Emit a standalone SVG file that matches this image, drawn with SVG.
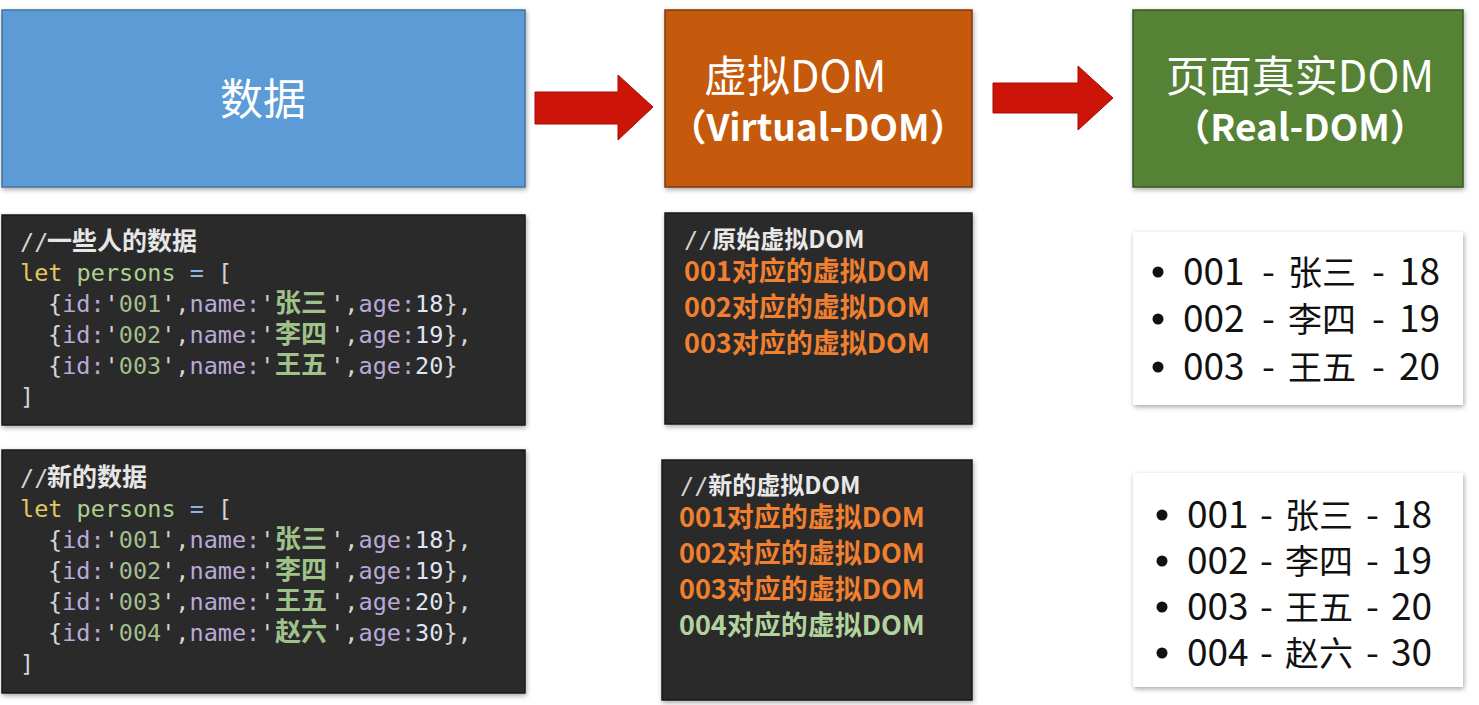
<svg xmlns="http://www.w3.org/2000/svg" width="1479" height="705" viewBox="0 0 1479 705">
<defs>
<filter id="sh" x="-5%" y="-5%" width="110%" height="115%">
<feDropShadow dx="1" dy="2" stdDeviation="2.5" flood-color="#000" flood-opacity="0.35"/>
</filter>
<style>
.title{font-family:"Noto Sans CJK SC","Noto Sans",sans-serif;fill:#fff;font-size:43px}
.sub{font-family:"Noto Sans CJK SC","Noto Sans",sans-serif;fill:#fff;font-size:37px;font-weight:bold}
.code{font-family:"DejaVu Sans Mono","Liberation Mono","Noto Sans CJK SC",monospace;font-size:23.5px;fill:#d4d4d4}
.cm{font-family:"Noto Sans CJK SC",sans-serif;font-weight:bold;font-size:25px;fill:#e6e6e6}
.kw{fill:#e2c85e}
.var{fill:#acd08f}
.op{fill:#8db4e8}
.key{fill:#b9a9d8}
.str{fill:#a3bf8e}
.nm{font-family:"Noto Sans CJK SC",sans-serif;font-weight:bold;font-size:26px;fill:#9fc28a}
.num{fill:#dfe5f2}
.vd{font-family:"Noto Sans CJK SC","Noto Sans",sans-serif;font-weight:bold;font-size:27px;fill:#f0802f}
.vdg{fill:#b2d29e}
.vc{font-family:"Noto Sans CJK SC",sans-serif;font-weight:bold;font-size:24px;fill:#e8e8e8}
.li{font-family:"Noto Sans CJK SC","Noto Sans",sans-serif;font-size:37px;fill:#111}
.lc{font-size:34px}
.dark{fill:#2c2c2c;stroke:#1b1b1b;stroke-width:1.5}
.white{fill:#fff}
.arrow{fill:#cc1408;stroke:#a50d05;stroke-width:1}
</style>
</defs>
<rect width="1479" height="705" fill="#fff"/>

<g id="connectors">
<polygon class="arrow" points="535,92 618,92 618,75 653,107 618,140 618,124 535,124"/>
<polygon class="arrow" points="993,83 1078,83 1078,66 1113,98 1078,130 1078,113 993,113"/>
</g>

<g id="node-data">
<rect x="2" y="10" width="523" height="177" fill="#5b9bd5" stroke="#41719c" stroke-width="1.5" filter="url(#sh)"/>
<text class="title" x="263" y="115" text-anchor="middle">数据</text>
</g>

<g id="node-virtual-dom">
<rect x="665" y="10" width="307" height="177" fill="#c55a11" stroke="#7f3a0c" stroke-width="1.5" filter="url(#sh)"/>
<text class="title" x="704" y="92">虚拟DOM</text>
<text class="sub" x="818" y="141" text-anchor="middle">（Virtual-DOM）</text>
</g>

<g id="node-real-dom">
<rect x="1133" y="10" width="330" height="177" fill="#548235" stroke="#385723" stroke-width="1.5" filter="url(#sh)"/>
<text class="title" x="1300" y="92" text-anchor="middle">页面真实DOM</text>
<text class="sub" x="1300" y="141" text-anchor="middle">（Real-DOM）</text>
</g>

<g id="code-old">
<rect class="dark" x="2" y="215" width="523" height="210" filter="url(#sh)"/>
<text x="20" y="250"><tspan class="code" fill="#e6e6e6">//</tspan><tspan class="cm" x="47">一些人的数据</tspan></text>
<text class="code" x="20" y="281"><tspan class="kw">let</tspan> <tspan class="var">persons</tspan> <tspan class="op">=</tspan> [</text>
<text class="code" y="312"><tspan x="48">{</tspan><tspan class="key">id:</tspan>'<tspan class="str">001</tspan>',<tspan class="key">name:</tspan>'<tspan class="nm" x="275">张三</tspan><tspan x="330.2">',</tspan><tspan class="key">age:</tspan><tspan class="num">18</tspan>},</text>
<text class="code" y="343"><tspan x="48">{</tspan><tspan class="key">id:</tspan>'<tspan class="str">002</tspan>',<tspan class="key">name:</tspan>'<tspan class="nm" x="275">李四</tspan><tspan x="330.2">',</tspan><tspan class="key">age:</tspan><tspan class="num">19</tspan>},</text>
<text class="code" y="374"><tspan x="48">{</tspan><tspan class="key">id:</tspan>'<tspan class="str">003</tspan>',<tspan class="key">name:</tspan>'<tspan class="nm" x="275">王五</tspan><tspan x="330.2">',</tspan><tspan class="key">age:</tspan><tspan class="num">20</tspan>}</text>
<text class="code" x="20" y="405">]</text>
</g>

<g id="code-new">
<rect class="dark" x="2" y="450" width="523" height="243" filter="url(#sh)"/>
<text x="20" y="486"><tspan class="code" fill="#e6e6e6">//</tspan><tspan class="cm" x="47">新的数据</tspan></text>
<text class="code" x="20" y="517"><tspan class="kw">let</tspan> <tspan class="var">persons</tspan> <tspan class="op">=</tspan> [</text>
<text class="code" y="548"><tspan x="48">{</tspan><tspan class="key">id:</tspan>'<tspan class="str">001</tspan>',<tspan class="key">name:</tspan>'<tspan class="nm" x="275">张三</tspan><tspan x="330.2">',</tspan><tspan class="key">age:</tspan><tspan class="num">18</tspan>},</text>
<text class="code" y="579"><tspan x="48">{</tspan><tspan class="key">id:</tspan>'<tspan class="str">002</tspan>',<tspan class="key">name:</tspan>'<tspan class="nm" x="275">李四</tspan><tspan x="330.2">',</tspan><tspan class="key">age:</tspan><tspan class="num">19</tspan>},</text>
<text class="code" y="610"><tspan x="48">{</tspan><tspan class="key">id:</tspan>'<tspan class="str">003</tspan>',<tspan class="key">name:</tspan>'<tspan class="nm" x="275">王五</tspan><tspan x="330.2">',</tspan><tspan class="key">age:</tspan><tspan class="num">20</tspan>},</text>
<text class="code" y="641"><tspan x="48">{</tspan><tspan class="key">id:</tspan>'<tspan class="str">004</tspan>',<tspan class="key">name:</tspan>'<tspan class="nm" x="275">赵六</tspan><tspan x="330.2">',</tspan><tspan class="key">age:</tspan><tspan class="num">30</tspan>},</text>
<text class="code" x="20" y="672">]</text>
</g>

<g id="vdom-old">
<rect class="dark" x="665" y="213" width="307" height="211" filter="url(#sh)"/>
<text x="684" y="248"><tspan class="code" fill="#e6e6e6" font-size="22">//</tspan><tspan class="vc">原始虚拟</tspan><tspan class="vc" font-size="18">DOM</tspan></text>
<text class="vd" x="684" y="281">001对应的虚拟DOM</text>
<text class="vd" x="684" y="317">002对应的虚拟DOM</text>
<text class="vd" x="684" y="353">003对应的虚拟DOM</text>
</g>

<g id="vdom-new">
<rect class="dark" x="662" y="460" width="310" height="240" filter="url(#sh)"/>
<text x="680" y="494"><tspan class="code" fill="#e6e6e6" font-size="22">//</tspan><tspan class="vc">新的虚拟</tspan><tspan class="vc" font-size="18">DOM</tspan></text>
<text class="vd" x="679" y="527">001对应的虚拟DOM</text>
<text class="vd" x="679" y="563">002对应的虚拟DOM</text>
<text class="vd" x="679" y="599">003对应的虚拟DOM</text>
<text class="vd vdg" x="679" y="635">004对应的虚拟DOM</text>
</g>

<g id="real-old">
<rect class="white" x="1133" y="232" width="330" height="173" filter="url(#sh)"/>
<circle cx="1158" cy="272" r="5.5" fill="#111"/>
<circle cx="1158" cy="319" r="5.5" fill="#111"/>
<circle cx="1158" cy="367" r="5.5" fill="#111"/>
<text class="li" y="285"><tspan x="1183">001</tspan><tspan x="1262">-</tspan><tspan class="lc" x="1288">张三</tspan><tspan x="1372">-</tspan><tspan x="1399">18</tspan></text>
<text class="li" y="332"><tspan x="1183">002</tspan><tspan x="1262">-</tspan><tspan class="lc" x="1288">李四</tspan><tspan x="1372">-</tspan><tspan x="1399">19</tspan></text>
<text class="li" y="380"><tspan x="1183">003</tspan><tspan x="1262">-</tspan><tspan class="lc" x="1288">王五</tspan><tspan x="1372">-</tspan><tspan x="1399">20</tspan></text>
</g>

<g id="real-new">
<rect class="white" x="1133" y="473" width="330" height="214" filter="url(#sh)"/>
<circle cx="1162" cy="515" r="5.5" fill="#111"/>
<circle cx="1162" cy="561" r="5.5" fill="#111"/>
<circle cx="1162" cy="607" r="5.5" fill="#111"/>
<circle cx="1162" cy="653" r="5.5" fill="#111"/>
<text class="li" y="528"><tspan x="1187">001</tspan><tspan x="1260">-</tspan><tspan class="lc" x="1285">张三</tspan><tspan x="1366">-</tspan><tspan x="1391">18</tspan></text>
<text class="li" y="574"><tspan x="1187">002</tspan><tspan x="1260">-</tspan><tspan class="lc" x="1285">李四</tspan><tspan x="1366">-</tspan><tspan x="1391">19</tspan></text>
<text class="li" y="620"><tspan x="1187">003</tspan><tspan x="1260">-</tspan><tspan class="lc" x="1285">王五</tspan><tspan x="1366">-</tspan><tspan x="1391">20</tspan></text>
<text class="li" y="666"><tspan x="1187">004</tspan><tspan x="1260">-</tspan><tspan class="lc" x="1285">赵六</tspan><tspan x="1366">-</tspan><tspan x="1391">30</tspan></text>
</g>
</svg>
